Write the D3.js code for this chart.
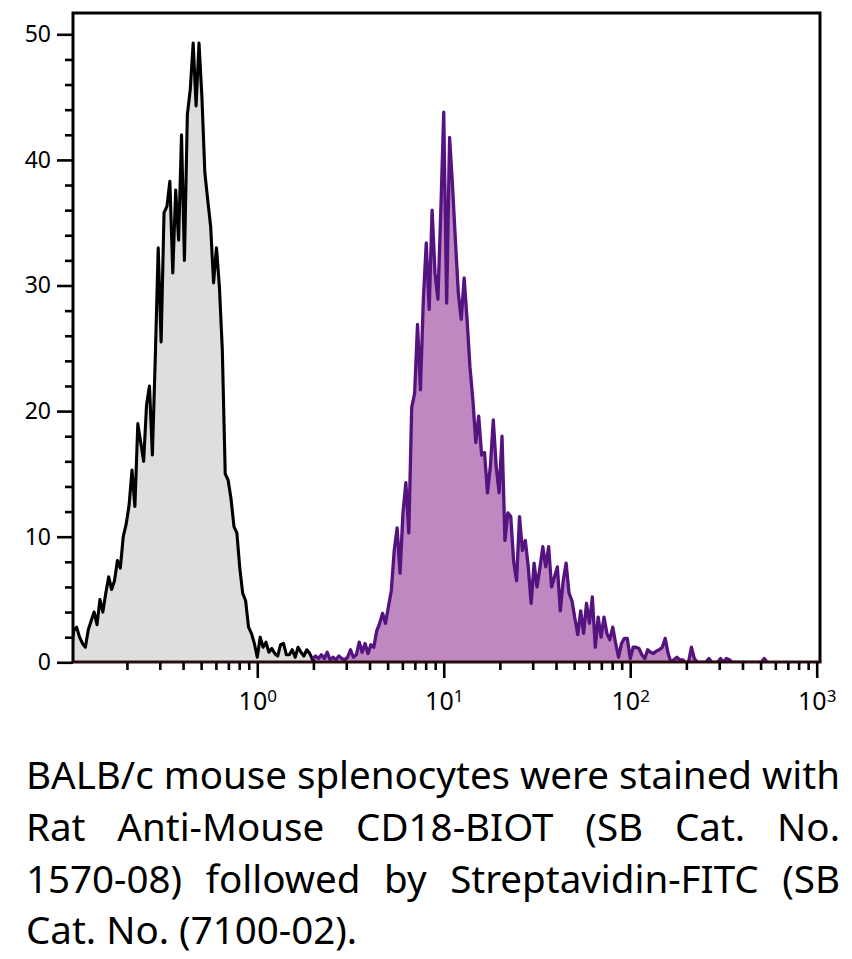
<!DOCTYPE html>
<html>
<head>
<meta charset="utf-8">
<script src="https://cdn.jsdelivr.net/npm/d3@7"></script>
<style>
  html, body { margin: 0; padding: 0; background: #ffffff; }
  svg { display: block; }
</style>
</head>
<body>
<svg id="chart" width="852" height="959"></svg>
<script>
// ---------------- DATA ----------------
// Histogram channels: 64 channels per decade, channel 0 = 10^-1
const channelsPerDecade = 64;
const firstDecade = -1;

// Control (grey) counts, starting at channel 0
const grayStart = 0;
const grayCounts = [
  0.5, 2.5, 2.8, 2.0, 1.5, 1.2, 2.6, 3.3, 4.0, 3.0,
  5.0, 4.0, 5.5, 6.8, 5.8, 6.5, 8.1, 7.5, 10.0, 11.0,
  12.5, 15.3, 12.4, 19.0, 17.5, 16.0, 20.5, 22.0, 16.5, 24.3,
  33.0, 25.5, 35.8, 36.3, 38.3, 31.0, 37.6, 33.6, 42.0, 32.0,
  43.6, 45.6, 49.3, 44.3, 49.3, 45.0, 39.0, 36.8, 34.7, 30.2,
  33.0, 29.9, 24.9, 15.0, 14.5, 13.0, 10.8, 10.3, 7.5, 5.5,
  4.9, 2.8, 2.3, 1.5, 0.4, 2.0, 1.2, 1.6, 0.8, 1.1,
  0.7, 0.5, 1.4, 1.5, 0.6, 0.6, 1.0, 0.4, 1.2, 0.8,
  0.5, 1.0, 0.7, 0.2, 0
];

// CD18 stained (purple) counts, starting at channel 83
const purpleStart = 83;
const purpleCounts = [
  0.3, 0.5, 0.3, 0.6, 0.3, 0.8, 0.2, 0.4, 0.2, 0.5,
  0.3, 0.2, 0.4, 1.0, 0.4, 0.6, 1.6, 0.8, 1.5, 0.7,
  1.4, 1.2, 2.5, 3.1, 3.9, 3.1, 4.4, 5.7, 8.9, 10.7,
  7.1, 11.9, 14.3, 10.3, 20.3, 21.4, 26.9, 21.7, 28.9, 33.4,
  28.1, 36.0, 31.0, 28.9, 36.0, 43.8, 28.6, 41.8, 38.0, 33.6,
  29.4, 27.3, 30.6, 27.3, 23.5, 20.9, 17.5, 19.6, 16.5, 16.7,
  13.5, 15.6, 19.3, 15.6, 13.5, 18.0, 9.7, 11.9, 11.6, 8.0,
  6.5, 11.6, 8.9, 9.7, 7.6, 4.7, 7.9, 6.0, 7.5, 9.2,
  7.6, 9.2, 6.0, 6.8, 7.6, 4.1, 6.5, 7.9, 5.5, 4.9,
  3.5, 2.2, 4.1, 2.3, 4.7, 3.1, 5.2, 1.2, 3.6, 2.0,
  3.6, 2.3, 1.8, 2.8, 1.5, 0.4, 1.5, 1.9, 1.9, 0.3,
  1.2, 1.2, 1.1, 0.6, 0.3, 1.0, 0.8, 0.7, 0.9, 1.0,
  1.2, 1.9, 0.7, 0, 0.2, 0.4, 0.2, 0.2, 0, 0,
  1.2, 0.3, 0, 0, 0, 0, 0.3, 0, 0, 0,
  0.3, 0, 0.3, 0.2, 0, 0, 0, 0, 0, 0,
  0, 0, 0, 0, 0, 0.3, 0
];

const yTicks = [0, 10, 20, 30, 40, 50];
const yMinorTicks = [2, 4, 6, 8, 12, 14, 16, 18, 22, 24, 26, 28, 32, 34, 36, 38, 42, 44, 46, 48];
const xDecades = [1, 10, 100, 1000];
const xDecadeExponents = ["0", "1", "2", "3"];
const xMinorTicks = [0.2,0.3,0.4,0.5,0.6,0.7,0.8,0.9,2,3,4,5,6,7,8,9,20,30,40,50,60,70,80,90,200,300,400,500,600,700,800,900];

const captionLines = [
  "BALB/c mouse splenocytes were stained with",
  "Rat Anti-Mouse CD18-BIOT (SB Cat. No.",
  "1570-08) followed by Streptavidin-FITC (SB",
  "Cat. No. (7100-02)."
];

// ---------------- DRAW ----------------
const svg = d3.select("#chart");
const frame = { left: 73, right: 820, top: 13, bottom: 662 };

const x = d3.scaleLog().domain([0.1, 1000]).range([70.8, 816.7]);
const y = d3.scaleLinear().domain([0, 50]).range([662.3, 34.3]);

function toPoints(start, counts) {
  return counts.map((v, i) => ({
    f: Math.pow(10, firstDecade + (start + i) / channelsPerDecade),
    v: v
  }));
}
const grayData = toPoints(grayStart, grayCounts);
const purpleData = toPoints(purpleStart, purpleCounts);

svg.append("defs").append("clipPath").attr("id", "plotclip")
  .append("rect")
  .attr("x", frame.left).attr("y", frame.top - 10)
  .attr("width", frame.right - frame.left)
  .attr("height", frame.bottom - frame.top + 10);

const area = d3.area()
  .x(d => x(d.f)).y0(y(0)).y1(d => y(d.v));
const line = d3.line()
  .x(d => x(d.f)).y(d => y(d.v));

const plot = svg.append("g").attr("clip-path", "url(#plotclip)");

plot.append("path").datum(grayData)
  .attr("d", area).attr("fill", "#dedede");
plot.append("path").datum(purpleData)
  .attr("d", area).attr("fill", "#bf88c0");
plot.append("path").datum(grayData)
  .attr("d", line).attr("fill", "none")
  .attr("stroke", "#000").attr("stroke-width", 3.1)
  .attr("stroke-linejoin", "round");
plot.append("path").datum(purpleData)
  .attr("d", line).attr("fill", "none")
  .attr("stroke", "#55137f").attr("stroke-width", 3.3)
  .attr("stroke-linejoin", "round");

// Frame
svg.append("path")
  .attr("d", `M${frame.left},${frame.bottom} L${frame.left},${frame.top} L${frame.right},${frame.top} L${frame.right},${frame.bottom}`)
  .attr("fill", "none").attr("stroke", "#000").attr("stroke-width", 3);
svg.append("line")
  .attr("x1", frame.left - 1.5).attr("x2", frame.right + 1.5)
  .attr("y1", frame.bottom).attr("y2", frame.bottom)
  .attr("stroke", "#2a0c10").attr("stroke-width", 3.2);

const fontAxis = "'Noto Sans', 'Open Sans', sans-serif";

// Y axis (major)
const yAxis = svg.append("g")
  .attr("transform", `translate(${frame.left},0)`)
  .call(d3.axisLeft(y).tickValues(yTicks).tickSize(16).tickPadding(6).tickFormat(d3.format("d")));
yAxis.select(".domain").remove();
yAxis.selectAll(".tick line").attr("stroke", "#000").attr("stroke-width", 2.6);
yAxis.selectAll(".tick text").attr("fill", "#000")
  .style("font-family", fontAxis).style("font-size", "23px");

// Y axis (minor)
const yMinor = svg.append("g")
  .attr("transform", `translate(${frame.left},0)`)
  .call(d3.axisLeft(y).tickValues(yMinorTicks).tickSize(8).tickFormat(""));
yMinor.select(".domain").remove();
yMinor.selectAll(".tick line").attr("stroke", "#000").attr("stroke-width", 2.6);

// X axis (major)
const xAxis = svg.append("g")
  .attr("transform", `translate(0,${frame.bottom})`)
  .call(d3.axisBottom(x).tickValues(xDecades).tickSize(16).tickPadding(14).tickFormat(() => ""));
xAxis.select(".domain").remove();
xAxis.selectAll(".tick line").attr("stroke", "#000").attr("stroke-width", 2.6);
xAxis.selectAll(".tick text").each(function(d, i) {
  const t = d3.select(this)
    .attr("fill", "#000")
    .style("font-family", fontAxis).style("font-size", "25px")
    .attr("text-anchor", "middle");
  t.append("tspan").text("10");
  t.append("tspan").text(xDecadeExponents[i])
    .attr("dy", "-0.45em").style("font-size", "17px");
});

// X axis (minor)
const xMinor = svg.append("g")
  .attr("transform", `translate(0,${frame.bottom})`)
  .call(d3.axisBottom(x).tickValues(xMinorTicks).tickSize(8).tickFormat(""));
xMinor.select(".domain").remove();
xMinor.selectAll(".tick line").attr("stroke", "#000").attr("stroke-width", 2.6);

// Caption (justified)
const capFont = "'Noto Sans', 'Open Sans', sans-serif";
const capSize = 38;
const capLeft = 26, capRight = 840;
const capBaselines = [789, 841, 893, 944];
const capW = capRight - capLeft;

const measureG = svg.append("g").attr("visibility", "hidden");
function measure(word) {
  const t = measureG.append("text")
    .style("font-family", capFont).style("font-size", capSize + "px").text(word);
  const w = t.node().getComputedTextLength();
  t.remove();
  return w;
}
const spaceEm = 0.26 * capSize;
const lineWords = captionLines.map(l => l.split(" "));
const lineWidths = lineWords.map(ws => ws.map(measure));
// horizontal condense factor from first (full, naturally spaced) line
const w0 = d3.sum(lineWidths[0]);
const s = capW / (w0 + spaceEm * (lineWords[0].length - 1));
const capG = svg.append("g");
lineWords.forEach((ws, li) => {
  const widths = lineWidths[li].map(w => w * s);
  const last = li === lineWords.length - 1;
  const gap = last ? spaceEm * s : (capW - d3.sum(widths)) / (ws.length - 1);
  let cx = capLeft;
  ws.forEach((w, wi) => {
    capG.append("text")
      .attr("x", cx).attr("y", capBaselines[li])
      .attr("textLength", widths[wi]).attr("lengthAdjust", "spacingAndGlyphs")
      .style("font-family", capFont).style("font-size", capSize + "px")
      .attr("fill", "#000").text(w);
    cx += widths[wi] + gap;
  });
});
measureG.remove();
</script>
</body>
</html>
